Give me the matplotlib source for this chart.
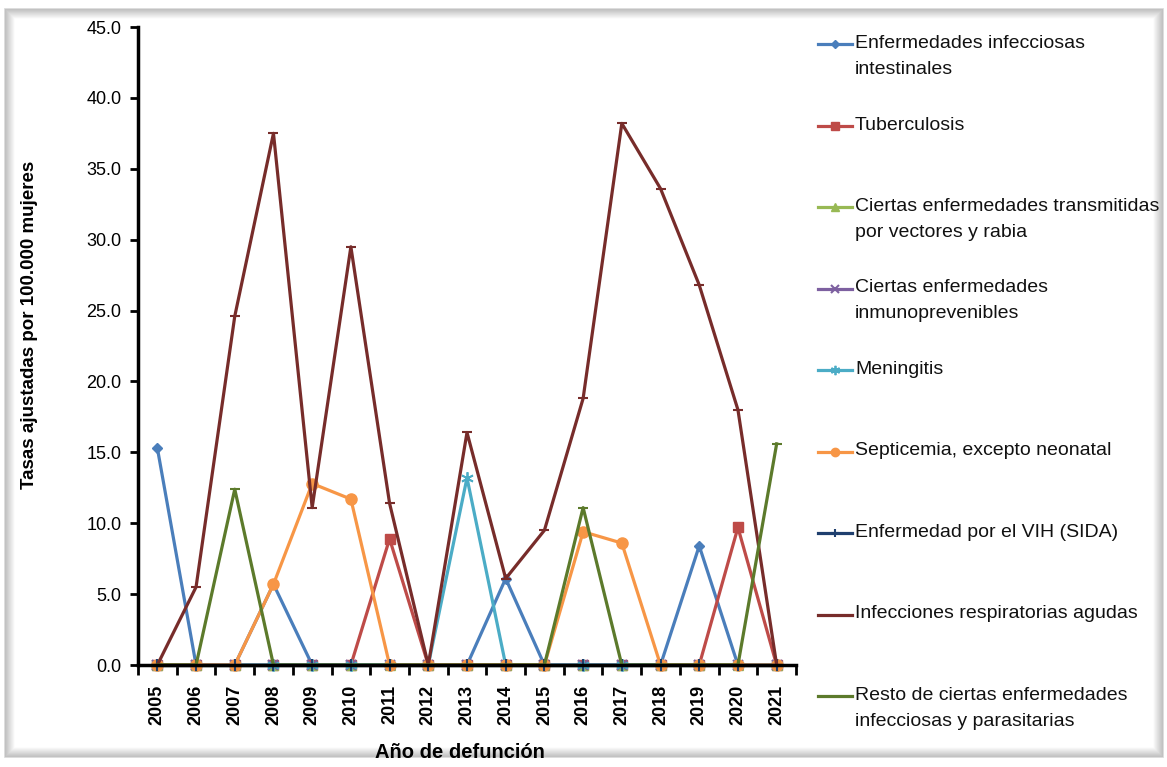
import matplotlib
matplotlib.use("Agg")
import matplotlib.pyplot as plt
from matplotlib.lines import Line2D
from matplotlib.patches import Rectangle
import numpy as np

years = [str(y) for y in range(2005, 2022)]

series_names = [
    "Enfermedades infecciosas\nintestinales",
    "Tuberculosis",
    "Ciertas enfermedades transmitidas\npor vectores y rabia",
    "Ciertas enfermedades\ninmunoprevenibles",
    "Meningitis",
    "Septicemia, excepto neonatal",
    "Enfermedad por el VIH (SIDA)",
    "Infecciones respiratorias agudas",
    "Resto de ciertas enfermedades\ninfecciosas y parasitarias",
]

intestinales   = [15.3, 0, 0, 5.7, 0, 0, 0, 0, 0, 6.1, 0, 0, 0, 0, 8.4, 0, 0]
tuberculosis   = [0, 0, 0, 0, 0, 0, 8.9, 0, 0, 0, 0, 0, 0, 0, 0, 9.7, 0]
vectores       = [0] * 17
inmunoprev     = [0] * 17
meningitis     = [0, 0, 0, 0, 0, 0, 0, 0, 13.2, 0, 0, 0, 0, 0, 0, 0, 0]
septicemia     = [0, 0, 0, 5.7, 12.8, 11.7, 0, 0, 0, 0, 0, 9.4, 8.6, 0, 0, 0, 0]
vih            = [0] * 17
respiratorias  = [0, 5.5, 24.6, 37.5, 11.1, 29.5, 11.4, 0, 16.4, 6.1, 9.5, 18.8, 38.2, 33.6, 26.8, 18.0, 0]
resto          = [0, 0, 12.4, 0, 0, 0, 0, 0, 0, 0, 0, 11.1, 0, 0, 0, 0, 15.6]

values = [intestinales, tuberculosis, vectores, inmunoprev, meningitis,
          septicemia, vih, respiratorias, resto]

styles = [
    dict(color="#4A7EBB", marker="D", ms=5.5),
    dict(color="#BE4B48", marker="s", ms=7),
    dict(color="#98B954", marker="^", ms=7),
    dict(color="#7D60A0", marker="x", ms=7, mew=1.5),
    dict(color="#4BACC6", marker=(6, 2, 0), ms=9, mew=1.3),
    dict(color="#F79646", marker="o", ms=8),
    dict(color="#1F3F6E", marker="+", ms=8, mew=1.5),
    dict(color="#772C2A", marker="_", ms=7, mew=1.5),
    dict(color="#5C7A2B", marker="_", ms=7, mew=1.5),
]

FONT = ["Liberation Sans", "DejaVu Sans"]

W, H = 1167, 767
fig = plt.figure(figsize=(W / 100, H / 100), dpi=100)
fig.patch.set_facecolor("white")

# soft frame shadow around the chart area
for i in range(10):
    a = 0.16 * (1 - i / 10)
    fig.add_artist(Rectangle(((5 + i) / W, (10 + i) / H), (1158 - 2 * i) / W, (748 - 2 * i) / H,
                             transform=fig.transFigure, fill=False,
                             edgecolor=(0, 0, 0, a), lw=1.2))

ax = fig.add_axes([138 / W, 1 - 665 / H, 658 / W, 638 / H])
x = np.arange(len(years))
for vals, st in zip(values, styles):
    ax.plot(x, vals, lw=2.3, color=st["color"], marker=st["marker"],
            ms=st["ms"], mew=st.get("mew", 1), clip_on=False)

ax.set_xlim(-0.5, len(years) - 0.5)
ax.set_ylim(0, 45)
ax.set_yticks(np.arange(0, 45.1, 5))
ax.set_yticklabels([f"{v:.1f}" for v in np.arange(0, 45.1, 5)],
                   family=FONT, fontsize=13)
ax.set_xticks(x)
ax.set_xticklabels(years, rotation=90, fontweight="bold", family=FONT, fontsize=13)
ax.set_xticks(np.arange(-0.5, len(years), 1), minor=True)
ax.tick_params(axis="x", which="major", length=0, pad=14)
ax.tick_params(axis="x", which="minor", length=7, width=2, direction="out")
ax.tick_params(axis="y", length=6, width=2, direction="out", pad=6)
for s in ["top", "right"]:
    ax.spines[s].set_visible(False)
for s in ["left", "bottom"]:
    ax.spines[s].set_linewidth(2.5)

fig.text(30 / W, 1 - 325 / H, "Tasas ajustadas por 100.000 mujeres", rotation=90,
         ha="center", va="center", fontweight="bold", family=FONT, fontsize=13.5)
fig.text(460 / W, 1 - 752 / H, "Año de defunción", ha="center", va="center",
         fontweight="bold", family=FONT, fontsize=14.5)

# legend column on the right
first_line_y = 44
step = 81.5
for i, (name, st) in enumerate(zip(series_names, styles)):
    yc = first_line_y + i * step
    yf = 1 - yc / H
    show_marker = st["marker"] != "_"
    fig.add_artist(Line2D([818 / W, 852 / W], [yf, yf], transform=fig.transFigure,
                          color=st["color"], lw=2.3))
    if show_marker:
        fig.add_artist(Line2D([835 / W], [yf], transform=fig.transFigure,
                              color=st["color"], marker=st["marker"],
                              ms=st["ms"] * 0.75, mew=st.get("mew", 1)))
    fig.text(855 / W, 1 - (yc - 9) / H, name, ha="left", va="top",
             family=FONT, fontsize=14, linespacing=1.68, color="#111111")

fig.savefig("out.png", dpi=100)
